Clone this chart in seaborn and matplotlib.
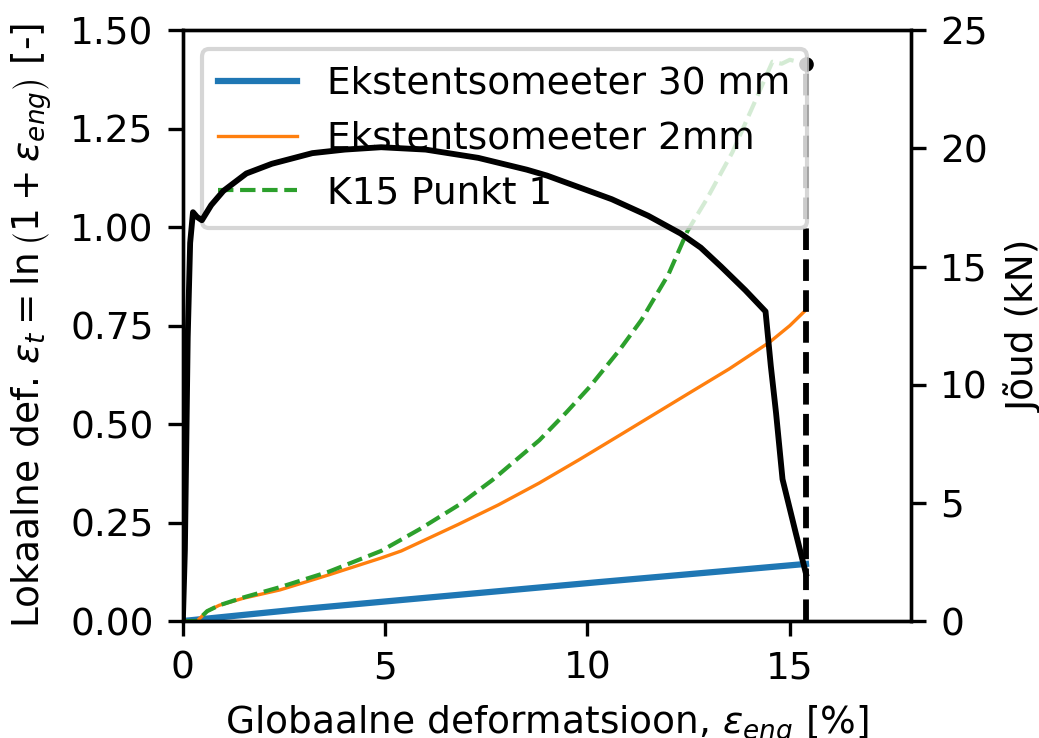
import matplotlib.pyplot as plt
import seaborn as sns

# andmed loetud jooniselt
x_30mm = [0.0, 2.9, 5.36, 10.3, 15.4]
y_30mm = [0.0, 0.03, 0.053, 0.099, 0.145]

x_2mm = [0.0, 0.35, 0.6, 0.9, 1.5, 2.4, 3.6, 4.9, 5.4, 6.8, 7.8, 8.8, 9.8,
         10.8, 12.5, 13.5, 14.5, 15.0, 15.4]
y_2mm = [0.0, 0.0, 0.025, 0.04, 0.058, 0.079, 0.117, 0.16, 0.178, 0.245,
         0.295, 0.35, 0.41, 0.472, 0.578, 0.64, 0.708, 0.75, 0.79]

x_k15 = [0.0, 0.35, 0.6, 0.9, 1.5, 2.4, 3.6, 4.9, 5.85, 6.84, 7.65, 8.81, 9.48,
         10.05, 10.79, 11.33, 12.0, 12.47, 12.94, 13.58, 14.1, 14.57, 14.8,
         15.0, 15.2, 15.4]
y_k15 = [0.0, 0.0, 0.025, 0.04, 0.06, 0.086, 0.125, 0.178, 0.233, 0.296, 0.358,
         0.459, 0.53, 0.594, 0.688, 0.764, 0.88, 0.99, 1.07, 1.19, 1.31, 1.42,
         1.415, 1.425, 1.42, 1.415]

x_joud = [0.0, 0.05, 0.12, 0.18, 0.25, 0.35, 0.47, 0.7, 1.0, 1.57, 2.2, 3.2,
          4.0, 4.9, 6.0, 7.3, 8.5, 9.0, 9.8, 10.6, 11.5, 12.3, 12.8, 13.3,
          13.9, 14.4, 14.53, 14.66, 14.82, 15.15, 15.4]
joud_kn = [0.0, 3.0, 12.0, 16.0, 17.3, 17.1, 16.96, 17.6, 18.2, 18.94, 19.35,
           19.8, 19.95, 20.05, 19.95, 19.6, 19.1, 18.85, 18.35, 17.85, 17.15,
           16.4, 15.8, 15.0, 14.0, 13.1, 10.8, 8.8, 6.0, 3.7, 2.0]

plt.rcParams["font.size"] = 9

fig, ax1 = plt.subplots(figsize=(1039 / 300, 738 / 300), dpi=300)
fig.subplots_adjust(left=0.176, right=0.877, bottom=0.1585, top=0.959)

sns.lineplot(x=x_30mm, y=y_30mm, ax=ax1, color="C0", lw=1.5, label="Ekstentsomeeter 30 mm")
sns.lineplot(x=x_2mm, y=y_2mm, ax=ax1, color="C1", lw=0.8, label="Ekstentsomeeter 2mm")
sns.lineplot(x=x_k15, y=y_k15, ax=ax1, color="C2", lw=1.0, linestyle="--", label="K15 Punkt 1")

# purunemise hetk
ax1.plot([x_k15[-1], x_k15[-1]], [0, y_k15[-1]], "k--", lw=1.4)
ax1.plot(x_k15[-1], y_k15[-1], "ko", ms=2.5)

ax1.set_xlim(0, 18)
ax1.set_ylim(0, 1.5)
ax1.set_xlabel(r"Globaalne deformatsioon, $\varepsilon_{eng}$ [%]")
ax1.set_ylabel(r"Lokaalne def. $\varepsilon_t = \ln\left(1 + \varepsilon_{eng}\right)$ [-]")
ax1.legend(loc="upper left", borderpad=0.45, handlelength=2.1)

ax2 = ax1.twinx()
sns.lineplot(x=x_joud, y=joud_kn, ax=ax2, color="black", lw=1.4)
ax2.set_ylim(0, 25)
ax2.set_ylabel("Jõud (kN)")

plt.savefig("out.png", dpi=300)
